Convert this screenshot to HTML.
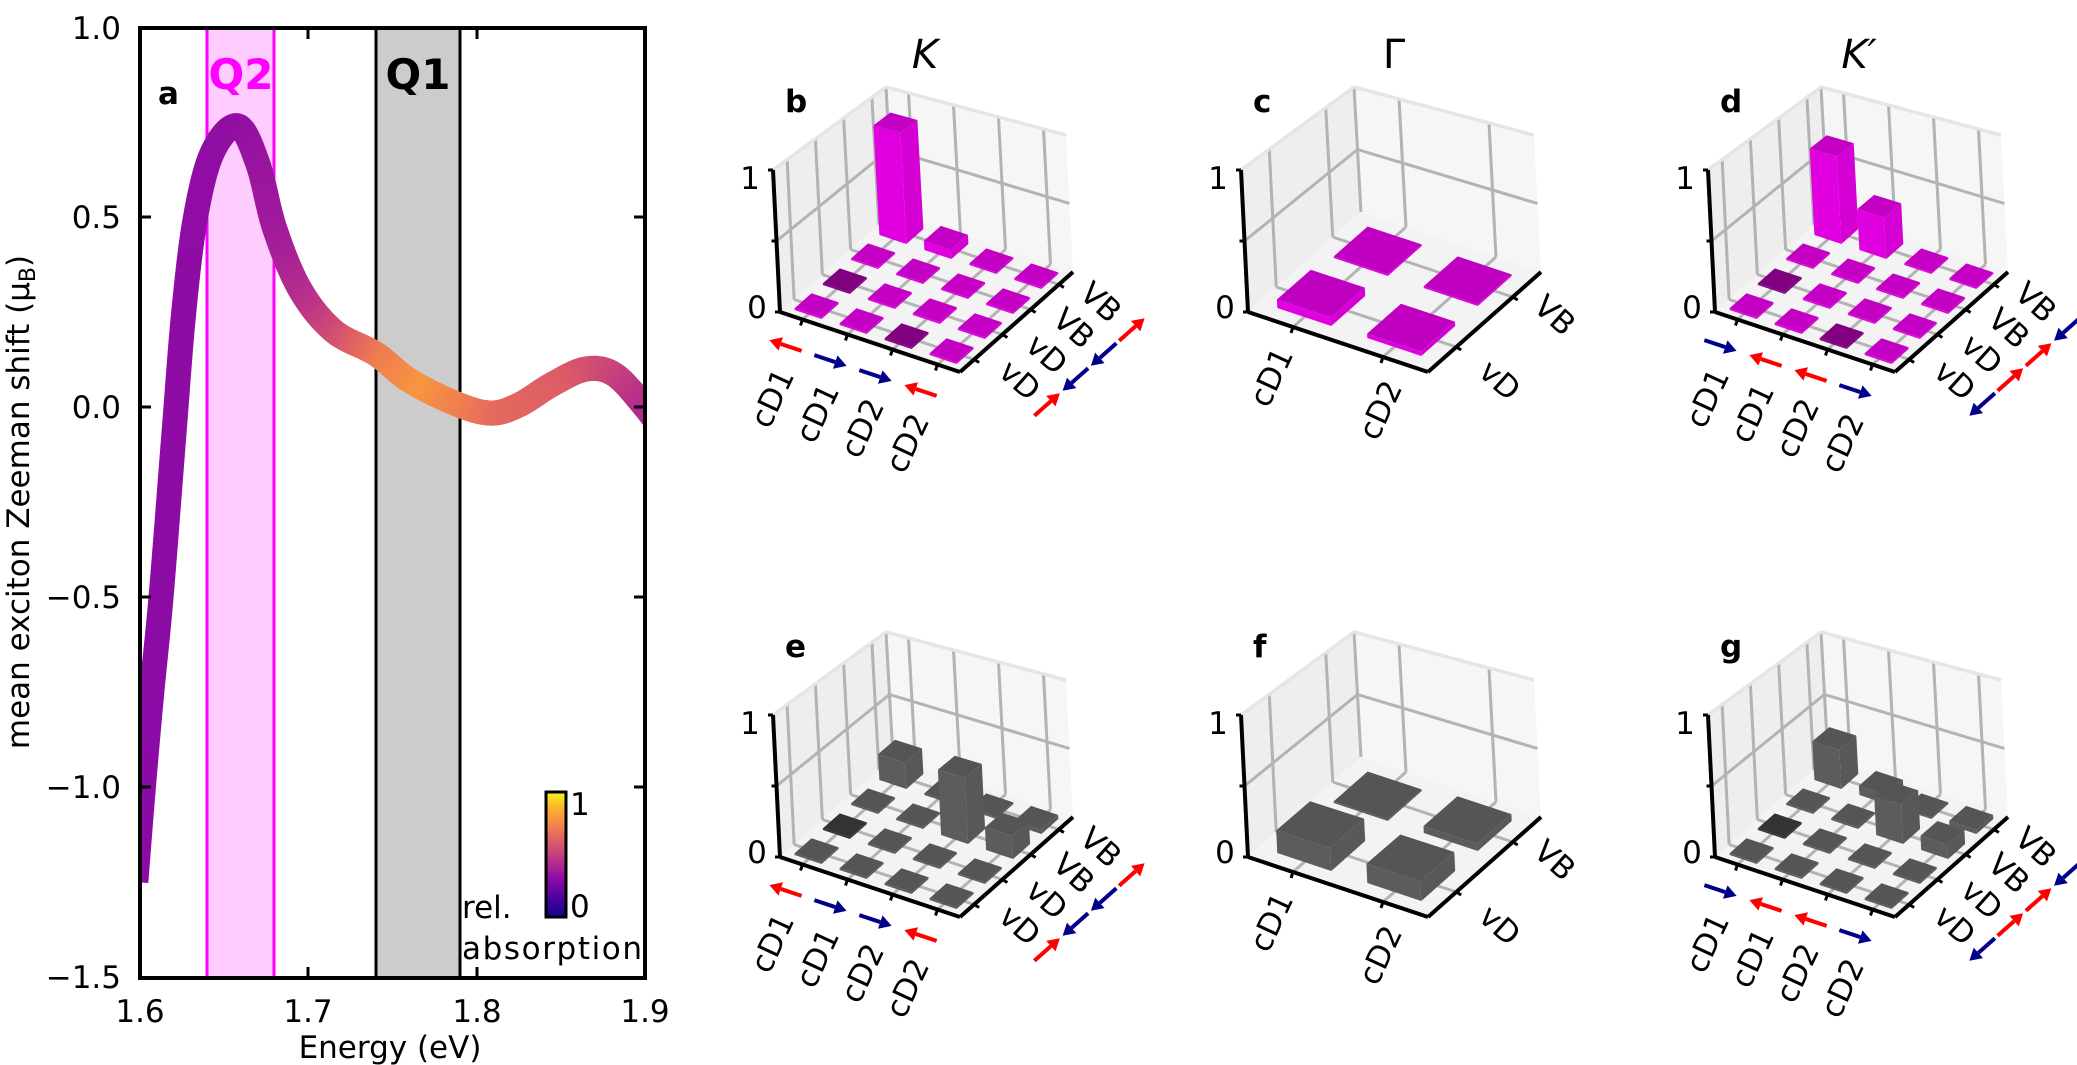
<!DOCTYPE html>
<html><head><meta charset="utf-8">
<style>
html,body{margin:0;padding:0;background:#fff;}
svg{display:block;}
.t{font-family:"DejaVu Sans","Liberation Sans",sans-serif;font-size:31px;fill:#000;}
.b{font-weight:bold;}
</style></head>
<body>
<svg id="s" xmlns="http://www.w3.org/2000/svg" width="2077" height="1065" viewBox="0 0 2077 1065">
<defs>
<clipPath id="ca"><rect x="140" y="28" width="505" height="950"/></clipPath>
<linearGradient id="plasma" x1="0" y1="1" x2="0" y2="0">
<stop offset="0" stop-color="#0d0887"/><stop offset="0.15" stop-color="#4c02a1"/>
<stop offset="0.3" stop-color="#8b0aa5"/><stop offset="0.45" stop-color="#b83289"/>
<stop offset="0.6" stop-color="#db5c68"/><stop offset="0.75" stop-color="#f48849"/>
<stop offset="0.9" stop-color="#febd2a"/><stop offset="1" stop-color="#f0f921"/>
</linearGradient>
</defs>
<rect x="207" y="28" width="67" height="950" fill="#ffccff"/>
<line x1="207" y1="28" x2="207" y2="978" stroke="#ff00ff" stroke-width="3"/>
<line x1="274" y1="28" x2="274" y2="978" stroke="#ff00ff" stroke-width="3"/>
<rect x="376" y="28" width="84" height="950" fill="#cccccc"/>
<line x1="376" y1="28" x2="376" y2="978" stroke="#000" stroke-width="3"/>
<line x1="460" y1="28" x2="460" y2="978" stroke="#000" stroke-width="3"/>
<g id="curve" clip-path="url(#ca)"></g>
<rect x="140" y="28" width="505" height="950" fill="none" stroke="#000" stroke-width="4"/>
<g stroke="#000" stroke-width="3">
<line x1="140" y1="217" x2="151" y2="217"/><line x1="140" y1="407" x2="151" y2="407"/><line x1="140" y1="597" x2="151" y2="597"/><line x1="140" y1="787" x2="151" y2="787"/>
<line x1="645" y1="217" x2="634" y2="217"/><line x1="645" y1="407" x2="634" y2="407"/><line x1="645" y1="597" x2="634" y2="597"/><line x1="645" y1="787" x2="634" y2="787"/>
<line x1="308" y1="978" x2="308" y2="967"/><line x1="477" y1="978" x2="477" y2="967"/>
<line x1="308" y1="28" x2="308" y2="39"/><line x1="477" y1="28" x2="477" y2="39"/>
</g>
<g class="t" text-anchor="end">
<text x="121" y="39">1.0</text><text x="121" y="228">0.5</text><text x="121" y="418">0.0</text>
<text x="121" y="608">−0.5</text><text x="121" y="798">−1.0</text><text x="121" y="988">−1.5</text>
</g>
<g class="t" text-anchor="middle">
<text x="140" y="1022">1.6</text><text x="308" y="1022">1.7</text><text x="477" y="1022">1.8</text><text x="645" y="1022">1.9</text>
<text x="390" y="1058">Energy (eV)</text>
</g>
<text class="t" transform="translate(29,502) rotate(-90)" text-anchor="middle">mean exciton Zeeman shift (μ<tspan font-size="22" dy="6">B</tspan><tspan dy="-6">)</tspan></text>
<text class="t b" x="158" y="104">a</text>
<text class="t b" x="241" y="89" text-anchor="middle" style="fill:#ff00ff;font-size:42px">Q2</text>
<text class="t b" x="418" y="89" text-anchor="middle" style="font-size:42px">Q1</text>
<rect x="546" y="792" width="20" height="125" fill="url(#plasma)" stroke="#000" stroke-width="3"/>
<text class="t" x="570" y="815">1</text>
<text class="t" x="570" y="917">0</text>
<text class="t" x="462" y="918">rel.</text>
<text class="t" x="462" y="959" textLength="180">absorption</text>

<g id="geo"></g>

<g class="t" text-anchor="middle" style="font-size:40px">
<text x="925" y="68" font-style="italic">K</text>
<text x="1394" y="68">Γ</text>
<text x="1859" y="68" font-style="italic">K′</text>
</g>

<g>
<text class="t b" x="785" y="112">b</text>
<text class="t" x="750" y="189" text-anchor="middle">1</text>
<text class="t" x="757" y="318" text-anchor="middle">0</text>
<g class="t" text-anchor="middle">
<text transform="translate(772,398) rotate(-65)" dy="11">cD1</text>
<text transform="translate(817,413) rotate(-65)" dy="11">cD1</text>
<text transform="translate(862,428) rotate(-65)" dy="11">cD2</text>
<text transform="translate(907,443) rotate(-65)" dy="11">cD2</text>
<text transform="translate(1101,302) rotate(42)" dy="11">VB</text>
<text transform="translate(1074,328) rotate(42)" dy="11">VB</text>
<text transform="translate(1047,354) rotate(42)" dy="11">vD</text>
<text transform="translate(1020,380) rotate(42)" dy="11">vD</text>
</g>
</g>
<g transform="translate(935,0)">
<text class="t b" x="785" y="112">d</text>
<text class="t" x="750" y="189" text-anchor="middle">1</text>
<text class="t" x="757" y="318" text-anchor="middle">0</text>
<g class="t" text-anchor="middle">
<text transform="translate(772,398) rotate(-65)" dy="11">cD1</text>
<text transform="translate(817,413) rotate(-65)" dy="11">cD1</text>
<text transform="translate(862,428) rotate(-65)" dy="11">cD2</text>
<text transform="translate(907,443) rotate(-65)" dy="11">cD2</text>
<text transform="translate(1101,302) rotate(42)" dy="11">VB</text>
<text transform="translate(1074,328) rotate(42)" dy="11">VB</text>
<text transform="translate(1047,354) rotate(42)" dy="11">vD</text>
<text transform="translate(1020,380) rotate(42)" dy="11">vD</text>
</g>
</g>
<g transform="translate(0,545)">
<text class="t b" x="785" y="112">e</text>
<text class="t" x="750" y="189" text-anchor="middle">1</text>
<text class="t" x="757" y="318" text-anchor="middle">0</text>
<g class="t" text-anchor="middle">
<text transform="translate(772,398) rotate(-65)" dy="11">cD1</text>
<text transform="translate(817,413) rotate(-65)" dy="11">cD1</text>
<text transform="translate(862,428) rotate(-65)" dy="11">cD2</text>
<text transform="translate(907,443) rotate(-65)" dy="11">cD2</text>
<text transform="translate(1101,302) rotate(42)" dy="11">VB</text>
<text transform="translate(1074,328) rotate(42)" dy="11">VB</text>
<text transform="translate(1047,354) rotate(42)" dy="11">vD</text>
<text transform="translate(1020,380) rotate(42)" dy="11">vD</text>
</g>
</g>
<g transform="translate(935,545)">
<text class="t b" x="785" y="112">g</text>
<text class="t" x="750" y="189" text-anchor="middle">1</text>
<text class="t" x="757" y="318" text-anchor="middle">0</text>
<g class="t" text-anchor="middle">
<text transform="translate(772,398) rotate(-65)" dy="11">cD1</text>
<text transform="translate(817,413) rotate(-65)" dy="11">cD1</text>
<text transform="translate(862,428) rotate(-65)" dy="11">cD2</text>
<text transform="translate(907,443) rotate(-65)" dy="11">cD2</text>
<text transform="translate(1101,302) rotate(42)" dy="11">VB</text>
<text transform="translate(1074,328) rotate(42)" dy="11">VB</text>
<text transform="translate(1047,354) rotate(42)" dy="11">vD</text>
<text transform="translate(1020,380) rotate(42)" dy="11">vD</text>
</g>
</g>
<g transform="translate(468,0)">
<text class="t b" x="785" y="112">c</text>
<text class="t" x="750" y="189" text-anchor="middle">1</text>
<text class="t" x="757" y="318" text-anchor="middle">0</text>
<g class="t" text-anchor="middle">
<text transform="translate(803,377) rotate(-65)" dy="11">cD1</text>
<text transform="translate(912,410) rotate(-65)" dy="11">cD2</text>
<text transform="translate(1087,315) rotate(42)" dy="11">VB</text>
<text transform="translate(1032,380) rotate(42)" dy="11">vD</text>
</g>
</g>
<g transform="translate(468,545)">
<text class="t b" x="785" y="112">f</text>
<text class="t" x="750" y="189" text-anchor="middle">1</text>
<text class="t" x="757" y="318" text-anchor="middle">0</text>
<g class="t" text-anchor="middle">
<text transform="translate(803,377) rotate(-65)" dy="11">cD1</text>
<text transform="translate(912,410) rotate(-65)" dy="11">cD2</text>
<text transform="translate(1087,315) rotate(42)" dy="11">VB</text>
<text transform="translate(1032,380) rotate(42)" dy="11">vD</text>
</g>
</g>
</svg>
<script>
(function(){
const NS='http://www.w3.org/2000/svg';
function el(tag,attrs,parent){const e=document.createElementNS(NS,tag);for(const k in attrs)e.setAttribute(k,attrs[k]);parent.appendChild(e);return e;}
const cg=document.getElementById('curve');
const pts=[[1.5975,-1.25],[1.602,-1.0],[1.607,-0.75],[1.6125,-0.5],[1.620,-0.08],[1.626,0.25],[1.633,0.5],[1.643,0.67],[1.658,0.74],[1.670,0.64],[1.680,0.47],[1.695,0.31],[1.715,0.2],[1.740,0.14],[1.760,0.07],[1.787,0.01],[1.808,-0.016],[1.825,0.005],[1.845,0.06],[1.865,0.1],[1.882,0.085],[1.900,0.0],[1.91,-0.06]];
const cs=[[1.600,[139,10,165]],[1.660,[147,15,163]],[1.680,[160,26,156]],[1.700,[187,52,136]],[1.720,[216,87,107]],[1.740,[238,123,81]],[1.765,[248,149,64]],[1.790,[239,126,80]],[1.810,[228,106,94]],[1.850,[220,93,102]],[1.880,[201,67,123]],[1.900,[177,42,144]]];
function col(E){if(E<=cs[0][0])return cs[0][1];for(let i=0;i<cs.length-1;i++){if(E<=cs[i+1][0]){const t=(E-cs[i][0])/(cs[i+1][0]-cs[i][0]);return cs[i][1].map((c,k)=>Math.round(c+(cs[i+1][1][k]-c)*t));}}return cs[cs.length-1][1];}
const X=E=>140+(E-1.6)*1683.3, Y=v=>407-v*380;
const P=pts.map(p=>[X(p[0]),Y(p[1]),p[0]]);
const S=[];
for(let i=0;i<P.length-1;i++){const p0=P[Math.max(0,i-1)],p1=P[i],p2=P[i+1],p3=P[Math.min(P.length-1,i+2)];
 for(let k=0;k<40;k++){const t=k/40,t2=t*t,t3=t2*t;const f=(a,b,c,d)=>0.5*((2*b)+(-a+c)*t+(2*a-5*b+4*c-d)*t2+(-a+3*b-3*c+d)*t3);
 S.push([f(p0[0],p1[0],p2[0],p3[0]),f(p0[1],p1[1],p2[1],p3[1]),f(p0[2],p1[2],p2[2],p3[2])]);}}
S.push([P[P.length-1][0],P[P.length-1][1],P[P.length-1][2]]);
for(let i=0;i<S.length-1;i++){const c=col(S[i][2]);
 const dx=S[i+1][0]-S[i][0],dy=S[i+1][1]-S[i][1],L=Math.hypot(dx,dy)||1,e=i>0?0.6:0;
 el('line',{x1:S[i][0]-dx/L*e,y1:S[i][1]-dy/L*e,x2:S[i+1][0]+dx/L*0.6,y2:S[i+1][1]+dy/L*0.6,stroke:'rgb('+c.join(',')+')','stroke-width':25,'stroke-linecap':'butt'},cg);}
const geo=document.getElementById('geo');
function panel(dx,dy,n,bars,pal,fa,ra){
 const O=[780+dx,312+dy],A=[180,60],B=[113,-100];
 const Pp=(u,v,w)=>[O[0]+u*A[0]+v*B[0]-7*w,O[1]+u*A[1]+v*B[1]-w*(142-17*v+12*u)];
 const poly=(ps,fill)=>el('polygon',{points:ps.map(p=>p[0].toFixed(1)+','+p[1].toFixed(1)).join(' '),fill:fill},geo);
 const line=(p,q,c,w)=>el('line',{x1:p[0],y1:p[1],x2:q[0],y2:q[1],stroke:c,'stroke-width':w},geo);
 poly([Pp(0,0,0),Pp(0,1,0),Pp(0,1,1),Pp(0,0,1)],'#eeeeee');
 poly([Pp(0,1,0),Pp(1,1,0),Pp(1,1,1),Pp(0,1,1)],'#f6f6f6');
 poly([Pp(0,0,0),Pp(1,0,0),Pp(1,1,0),Pp(0,1,0)],'#f3f3f3');
 const g='#b3b3b3',gw=3;
 const ticks=n==4?[.125,.375,.625,.875]:[.25,.75];
 for(const t of ticks){line(Pp(t,0,0),Pp(t,1,0),g,gw);line(Pp(0,t,0),Pp(1,t,0),g,gw);line(Pp(0,t,0),Pp(0,t,1),g,gw);line(Pp(t,1,0),Pp(t,1,1),g,gw);}
 for(const w of [0.5,1]){line(Pp(0,0,w),Pp(0,1,w),g,gw);line(Pp(0,1,w),Pp(1,1,w),g,gw);}
 line(Pp(0,1,0),Pp(0,1,1),g,gw);
 line(Pp(0,0,1),Pp(0,1,1),'#e6e6e6',3);line(Pp(0,1,1),Pp(1,1,1),'#e6e6e6',3);
 const s=0.6;const list=[];
 for(let i=0;i<n;i++)for(let j=0;j<n;j++){let h=0.012,dark=false;for(const b of bars){if(b[0]==i&&b[1]==j){if(b[2]==='d')dark=true;else h=b[2];}}list.push([i,j,h,dark]);}
 list.sort((a,b)=>(a[0]-a[1])-(b[0]-b[1]));
 for(const [i,j,h,dark] of list){const u0=(i+.5)/n-s/(2*n),u1=u0+s/n,v0=(j+.5)/n-s/(2*n),v1=v0+s/n;
  const top=dark?pal.dark:pal.top;
  poly([Pp(u0,v0,0),Pp(u1,v0,0),Pp(u1,v0,h),Pp(u0,v0,h)],dark?pal.dark:pal.front);
  poly([Pp(u1,v0,0),Pp(u1,v1,0),Pp(u1,v1,h),Pp(u1,v0,h)],dark?pal.dark:pal.side);
  poly([Pp(u0,v0,h),Pp(u1,v0,h),Pp(u1,v1,h),Pp(u0,v1,h)],top);}
 line(Pp(0,0,0),Pp(1,0,0),'#000',4);line(Pp(1,0,0),Pp(1,1,0),'#000',4);line(Pp(0,0,0),Pp(0,0,1),'#000',4);
 for(const t of ticks){const p=Pp(t,0,0);line(p,[p[0]-2,p[1]+6],'#000',3);const q=Pp(1,t,0);line(q,[q[0]+5,q[1]+3],'#000',3);}
 for(const w of [0,0.5,1]){const p=Pp(0,0,w);line(p,[p[0]-5,p[1]],'#000',3);}
 function arrow(c,d,sign,color){const dxu=d[0]*sign,dyu=d[1]*sign;const L=17;const tail=[c[0]-dxu*L,c[1]-dyu*L],tip=[c[0]+dxu*L,c[1]+dyu*L];
  const base=[tip[0]-dxu*12,tip[1]-dyu*12];line(tail,base,color,4);
  const px=-dyu,py=dxu;poly([tip,[base[0]+px*7,base[1]+py*7],[base[0]-px*7,base[1]-py*7]],color);}
 const a=[0.949,0.316],b=[0.749,-0.663];
 if(fa)fa.forEach((f,i)=>{const p=Pp((i+.5)/n,0,0);arrow([p[0]-17,p[1]+26],a,f[0],f[1]);});
 if(ra)ra.forEach((f,j)=>{const p=Pp(1,(j+.5)/n,0);arrow([p[0]+73,p[1]+45],b,f[0],f[1]);});
}
const R='#ff0000',Bl='#00008b';
const mag={top:'#c400c4',front:'#e000e0',side:'#d400d4',dark:'#800080'};
const mflat={top:'#c000c0',front:'#e000e0',side:'#d400d4',dark:'#800080'};
const gr={top:'#555555',front:'#5c5c5c',side:'#585858',dark:'#333333'};
const faK=[[-1,R],[1,Bl],[1,Bl],[-1,R]], raK=[[1,R],[-1,Bl],[-1,Bl],[1,R]];
const faKp=[[1,Bl],[-1,R],[-1,R],[1,Bl]], raKp=[[-1,Bl],[1,R],[1,R],[-1,Bl]];
panel(0,0,4,[[0,3,0.85],[1,3,0.07],[0,1,'d'],[2,0,'d']],mag,faK,raK);
panel(468,0,2,[[0,0,0.06],[1,0,0.03]],mflat,null,null);
panel(935,0,4,[[0,3,0.67],[1,3,0.31],[0,1,'d'],[2,0,'d']],mag,faKp,raKp);
panel(0,545,4,[[0,3,0.2],[2,2,0.47],[3,2,0.16],[3,3,0.03],[0,1,'d']],gr,faK,raK);
panel(468,545,2,[[0,0,0.16],[1,0,0.13],[1,1,0.05]],gr,null,null);
panel(935,545,4,[[0,3,0.3],[1,3,0.07],[2,2,0.28],[3,2,0.1],[3,3,0.03],[0,1,'d']],gr,faKp,raKp);
})();
</script>
</body></html>
